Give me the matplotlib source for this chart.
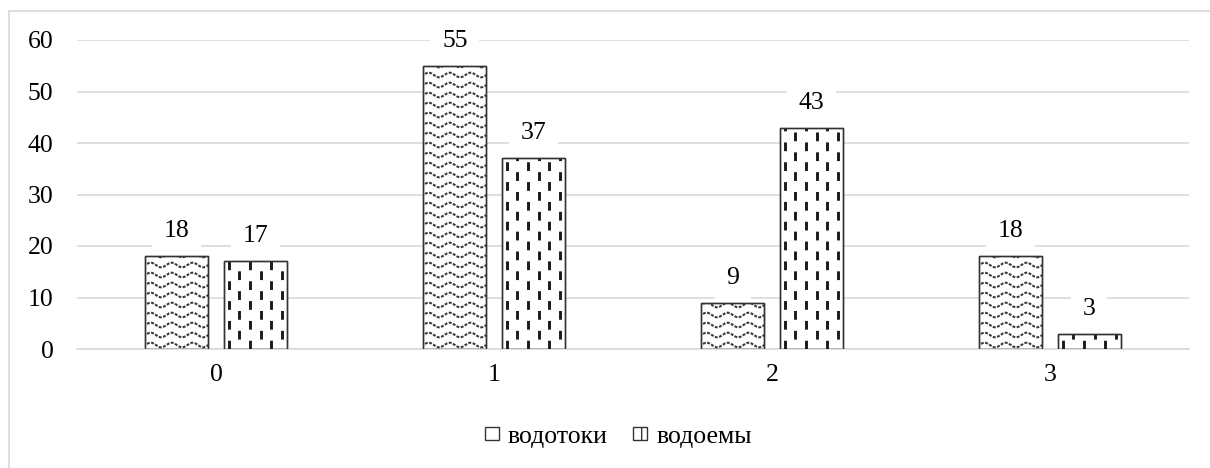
#!/usr/bin/env python3
import numpy as np
import matplotlib.pyplot as plt
from matplotlib.patches import Rectangle

plt.rcParams['font.family'] = ['Liberation Serif', 'DejaVu Serif']
plt.rcParams['hatch.linewidth'] = 1.0

categories = ['0', '1', '2', '3']
vodotoki = [18, 55, 9, 18]
vodoemy = [17, 37, 43, 3]
series_names = ['водотоки', 'водоемы']

FS = 18.5

fig = plt.figure(figsize=(12.1, 4.68), dpi=100)
ax = fig.add_axes([77 / 1210, 1 - 349 / 468, 1112 / 1210, 309 / 468])

# outer frame (only left/top visible in the reference)
fig.patches.append(Rectangle((9 / 1210, -0.1), 1.2, 1 - 11 / 468 + 0.1,
                             transform=fig.transFigure, fill=False,
                             edgecolor='#d9d9d9', linewidth=1.2))

x = np.arange(len(categories))
w = 0.226
off = 0.141

px_x = 278 / 1.0      # pixels per x unit
px_y = 309 / 60.0     # pixels per y unit


def wavy(ax, bar):
    x0, y0 = bar.get_x(), bar.get_y()
    bw, bh = bar.get_width(), bar.get_height()
    xs = np.linspace(x0 - 0.05, x0 + bw + 0.05, 300)
    step = 10 / px_y
    amp = 2.3 / px_y
    period = 21 / px_x
    yy = y0 + step * 0.4
    while yy < y0 + bh + step:
        ys = yy + amp * np.sin(2 * np.pi * (xs - x0) / period)
        ln, = ax.plot(xs, ys, color='#3a3a3a', linewidth=1.5,
                      linestyle=(0, (1.4, 0.7)), zorder=3)
        ln.set_clip_path(bar)
        yy += step


def dashes(ax, bar):
    x0, y0 = bar.get_x(), bar.get_y()
    bw, bh = bar.get_width(), bar.get_height()
    step = 10.7 / px_x
    xx = x0 + step * 0.45
    k = 0
    while xx < x0 + bw:
        ln, = ax.plot([xx, xx], [y0, y0 + bh], color='#1a1a1a',
                      linewidth=2.1, zorder=3,
                      linestyle=(3.4 * (k % 2), (3.0, 3.8)))
        ln.set_clip_path(bar)
        xx += step
        k += 1


bars1 = ax.bar(x - off, vodotoki, w, color='white', edgecolor='#333333',
               linewidth=1.0, zorder=2)
bars2 = ax.bar(x + off, vodoemy, w, color='white', edgecolor='#333333',
               linewidth=1.0, zorder=2)
for b in bars1:
    wavy(ax, b)
for b in bars2:
    dashes(ax, b)
for b in list(bars1) + list(bars2):
    ax.add_patch(Rectangle((b.get_x(), b.get_y()), b.get_width(), b.get_height(),
                           fill=False, edgecolor='#333333', linewidth=1.0, zorder=4))

for bars in (bars1, bars2):
    for b in bars:
        ax.annotate(str(int(b.get_height())),
                    (b.get_x() + b.get_width() / 2, b.get_height()),
                    xytext=(0, 18), textcoords='offset points',
                    ha='center', va='center', fontsize=FS, zorder=5,
                    bbox=dict(boxstyle='square,pad=0.45', fc='white', ec='none'))

ax.set_xlim(-0.5, 3.5)
ax.set_ylim(0, 60)
ax.set_yticks(range(0, 61, 10))
ax.set_xticks(x)
ax.set_xticklabels(categories)
ax.yaxis.grid(True, color='#d9d9d9', linewidth=1.2)
ax.set_axisbelow(True)
for s in ['top', 'right', 'left']:
    ax.spines[s].set_visible(False)
ax.spines['bottom'].set_color('#d9d9d9')
ax.spines['bottom'].set_linewidth(1.2)
ax.tick_params(length=0, labelsize=FS, colors='black')
ax.tick_params(axis='y', pad=17)
ax.tick_params(axis='x', pad=11)

h1 = Rectangle((0, 0), 1, 1, facecolor='white', edgecolor='#333333', hatch='~~~')
h2 = Rectangle((0, 0), 1, 1, facecolor='white', edgecolor='#333333', hatch='|')
fig.legend([h1, h2], series_names, loc='center', bbox_to_anchor=(0.511, 1 - 437 / 468),
           ncol=2, frameon=False, fontsize=FS, handlelength=0.55, handleheight=0.4,
           handletextpad=0.35, columnspacing=1.0)

plt.savefig('out.png', dpi=100)
